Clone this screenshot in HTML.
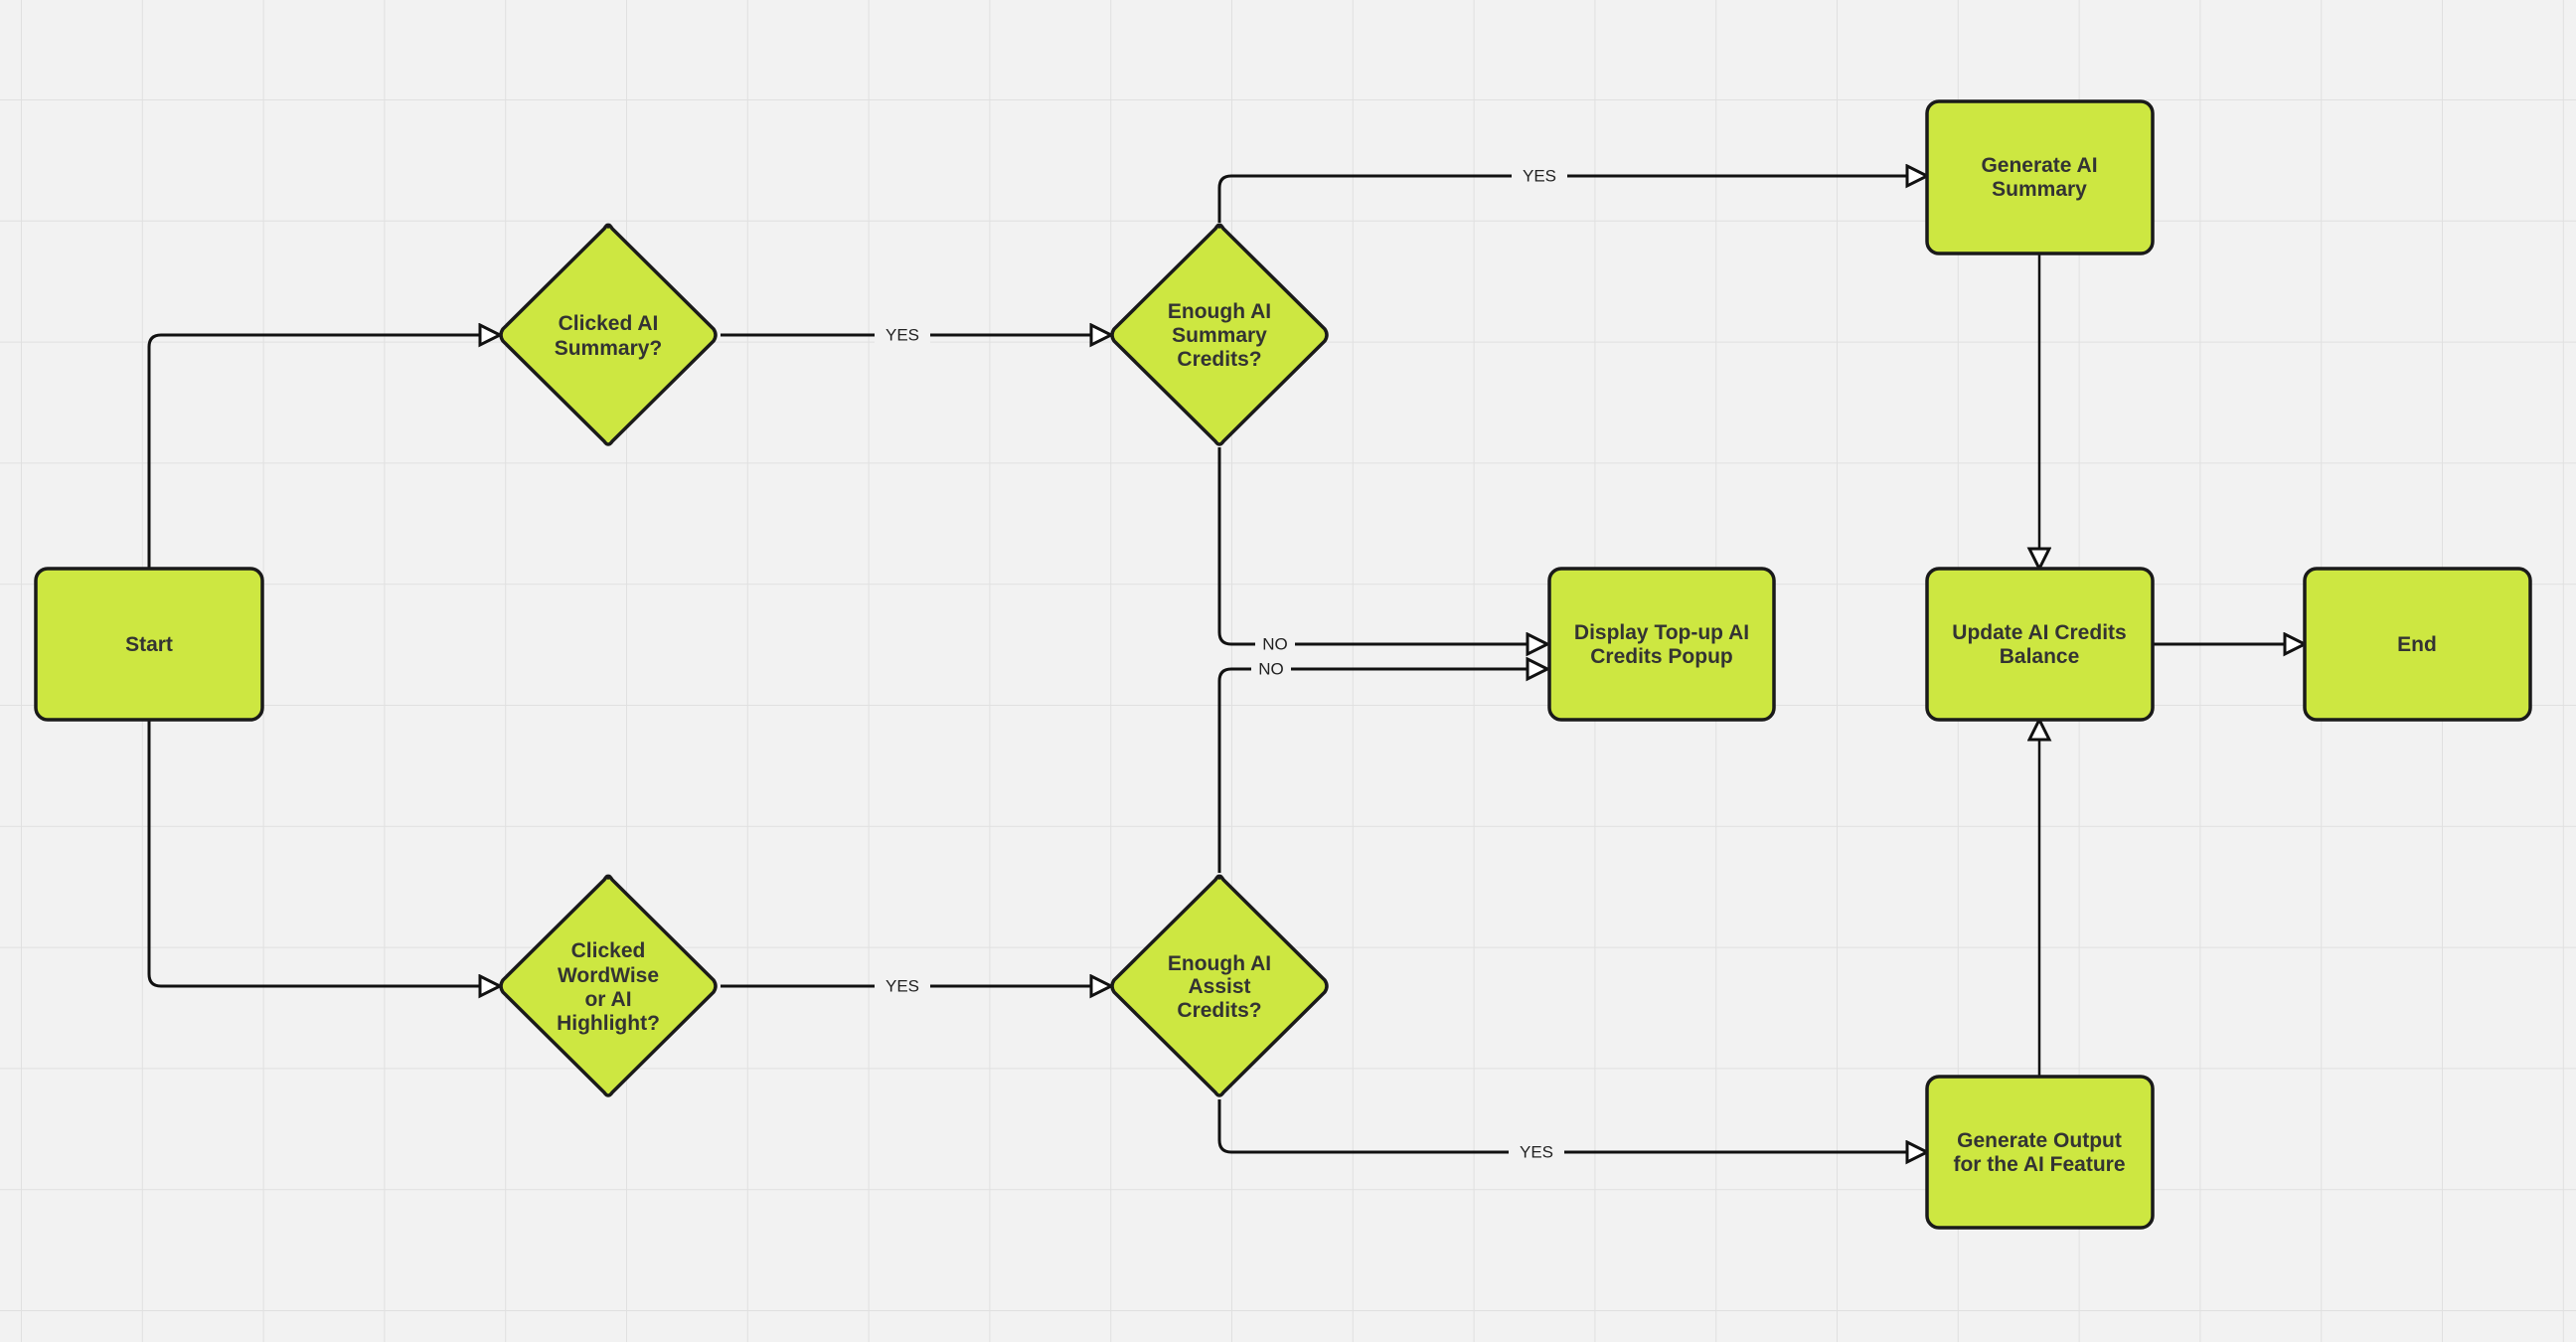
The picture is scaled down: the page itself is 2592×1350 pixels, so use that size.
<!DOCTYPE html>
<html><head><meta charset="utf-8"><style>
html,body{margin:0;padding:0;background:#f2f2f2;}
svg{display:block;}
.n{font-family:"Liberation Sans",sans-serif;font-weight:bold;font-size:21px;fill:#333;text-anchor:middle;}
.l{font-family:"Liberation Sans",sans-serif;font-size:17px;fill:#222;text-anchor:middle;dominant-baseline:middle;}
</style></head><body>
<svg width="2592" height="1350" viewBox="0 0 2592 1350" xmlns="http://www.w3.org/2000/svg">
<defs>
<pattern id="g" x="21" y="100" width="121.8" height="121.8" patternUnits="userSpaceOnUse">
<path d="M0 0V121.8M0 0H121.8" stroke="#e0e0e0" stroke-width="2" fill="none"/>
</pattern>
<marker id="a" markerWidth="26" markerHeight="26" refX="22" refY="12" orient="auto" markerUnits="userSpaceOnUse">
<path d="M2 2 L22 12 L2 22 Z" fill="#fff" stroke="#111" stroke-width="3" stroke-linejoin="miter"/>
</marker>
</defs>
<rect width="2592" height="1350" fill="#f2f2f2"/>
<rect width="2592" height="1350" fill="url(#g)"/>

<g fill="none" stroke="#111" stroke-width="3">
<path d="M150 572 V349 Q150 337 162 337 H503" marker-end="url(#a)"/>
<path d="M150 724 V980 Q150 992 162 992 H503" marker-end="url(#a)"/>
<path d="M725 337 H1118" marker-end="url(#a)"/>
<path d="M725 992 H1118" marker-end="url(#a)"/>
<path d="M1227 224 V189 Q1227 177 1239 177 H1939" marker-end="url(#a)"/>
<path d="M1227 450 V636 Q1227 648 1239 648 H1557" marker-end="url(#a)"/>
<path d="M1227 878 V685 Q1227 673 1239 673 H1557" marker-end="url(#a)"/>
<path d="M1227 1106 V1147 Q1227 1159 1239 1159 H1939" marker-end="url(#a)"/>
<path d="M2052 255 V572" stroke-width="2.5" marker-end="url(#a)"/>
<path d="M2052 1083 V724" stroke-width="2.5" marker-end="url(#a)"/>
<path d="M2166 648 H2319" marker-end="url(#a)"/>
</g>

<g>
<rect x="880" y="326" width="56" height="22" fill="#f2f2f2"/><text class="l" x="908" y="338">YES</text>
<rect x="880" y="981" width="56" height="22" fill="#f2f2f2"/><text class="l" x="908" y="993">YES</text>
<rect x="1521" y="166" width="56" height="22" fill="#f2f2f2"/><text class="l" x="1549" y="178">YES</text>
<rect x="1518" y="1148" width="56" height="22" fill="#f2f2f2"/><text class="l" x="1546" y="1160">YES</text>
<rect x="1263" y="637" width="40" height="22" fill="#f2f2f2"/><text class="l" x="1283" y="649">NO</text>
<rect x="1259" y="662" width="40" height="22" fill="#f2f2f2"/><text class="l" x="1279" y="674">NO</text>
</g>

<g fill="#cde741" stroke="#1a1a1a" stroke-width="3.5" stroke-linejoin="round">
<rect x="36" y="572" width="228" height="152" rx="12"/>
<rect x="1559" y="572" width="226" height="152" rx="12"/>
<rect x="1939" y="102" width="227" height="153" rx="12"/>
<rect x="1939" y="572" width="227" height="152" rx="12"/>
<rect x="2319" y="572" width="227" height="152" rx="12"/>
<rect x="1939" y="1083" width="227" height="152" rx="12"/>
<path d="M612 228 Q612 224 616 230 L718 331 Q722 337 718 343 L616 444 Q612 450 608 444 L506 343 Q502 337 506 331 L608 230 Q612 224 612 228Z"/>
<path d="M1227 228 Q1227 224 1231 230 L1333 331 Q1337 337 1333 343 L1231 444 Q1227 450 1223 444 L1121 343 Q1117 337 1121 331 L1223 230 Q1227 224 1227 228Z"/>
<path d="M612 883 Q612 879 616 885 L718 986 Q722 992 718 998 L616 1099 Q612 1105 608 1099 L506 998 Q502 992 506 986 L608 885 Q612 879 612 883Z"/>
<path d="M1227 883 Q1227 879 1231 885 L1333 986 Q1337 992 1333 998 L1231 1099 Q1227 1105 1223 1099 L1121 998 Q1117 992 1121 986 L1223 885 Q1227 879 1227 883Z"/>
</g>

<g class="n">
<text class="n" x="150" y="655">Start</text>
<text class="n" x="612" y="332">Clicked AI</text>
<text class="n" x="612" y="357">Summary?</text>
<text class="n" x="1227" y="320">Enough AI</text>
<text class="n" x="1227" y="344">Summary</text>
<text class="n" x="1227" y="368">Credits?</text>
<text class="n" x="612" y="963">Clicked</text>
<text class="n" x="612" y="988">WordWise</text>
<text class="n" x="612" y="1012">or AI</text>
<text class="n" x="612" y="1036">Highlight?</text>
<text class="n" x="1227" y="976">Enough AI</text>
<text class="n" x="1227" y="999">Assist</text>
<text class="n" x="1227" y="1023">Credits?</text>
<text class="n" x="2052" y="173">Generate AI</text>
<text class="n" x="2052" y="197">Summary</text>
<text class="n" x="1672" y="643">Display Top-up AI</text>
<text class="n" x="1672" y="667">Credits Popup</text>
<text class="n" x="2052" y="643">Update AI Credits</text>
<text class="n" x="2052" y="667">Balance</text>
<text class="n" x="2432" y="655">End</text>
<text class="n" x="2052" y="1154">Generate Output</text>
<text class="n" x="2052" y="1178">for the AI Feature</text>
</g>
</svg>
</body></html>
